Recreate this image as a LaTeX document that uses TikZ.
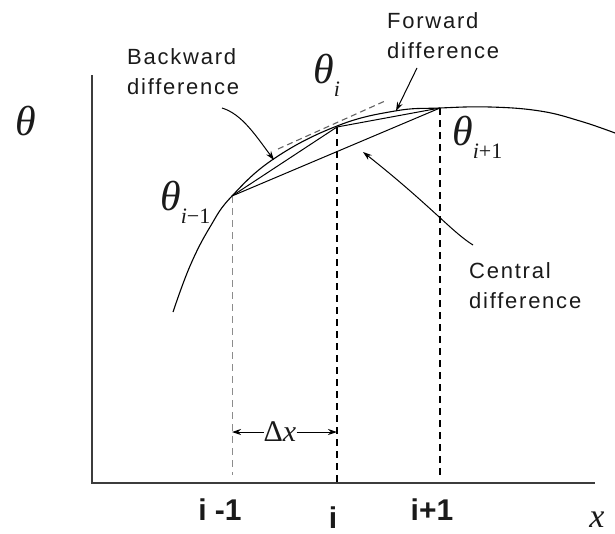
\documentclass[tikz,border=0pt]{standalone}
\usepackage{fontspec}
\setmainfont{Liberation Sans}
\newfontfamily\serifmath{Liberation Serif}
\newfontfamily\labelfont[LetterSpace=8]{Liberation Sans}
\usetikzlibrary{arrows.meta, positioning, calc}
\definecolor{ink}{HTML}{1A1A1A}
\definecolor{axisgray}{HTML}{3C3C3C}
\definecolor{guide}{HTML}{8C8C8C}
\newcommand{\thsym}{{\serifmath\itshape θ}}
\newcommand{\thsub}[1]{\thsym\raisebox{-13pt}{\fontsize{22}{22}\selectfont\serifmath #1}}
\tikzset{
  >={Stealth[length=9pt, width=6pt]},
  %
  lbl/.style={font=\labelfont\fontsize{22}{30}\selectfont, text=ink,
              align=left, inner sep=0pt},
  ticklbl/.style={font=\bfseries\fontsize{30}{30}\selectfont, text=ink,
                  inner sep=0pt},
  mathlbl/.style={font=\fontsize{42}{42}\selectfont, text=ink, inner sep=0pt},
  dimlbl/.style={font=\fontsize{30}{30}\selectfont, text=ink, inner sep=0pt},
  %
  axis/.style={draw=axisgray, line width=2.2pt},
  curve/.style={draw=black, line width=1.1pt},
  chord/.style={draw=black, line width=1pt},
  drop/.style={draw=black, line width=1.3pt, dash pattern=on 7pt off 5pt},
  droplight/.style={drop, draw=guide, line width=0.9pt},
  tangent/.style={draw=guide!70!black, line width=1.1pt,
                  dash pattern=on 6pt off 4pt},
  leader/.style={draw=black, line width=1pt, ->},
  dimline/.style={draw=black, line width=1pt, ->},
}
\begin{document}
\begin{tikzpicture}[x=1pt, y=-1pt]
  \useasboundingbox (0,0) rectangle (615,533);

  % axes
  \coordinate (ytop)   at (92,75);
  \coordinate (origin) at (92,483);
  \coordinate (xend)   at (595,483);
  \draw[axis] (ytop) -- (origin) -- (xend);

  % grid points
  \coordinate (pm) at (232,196);
  \coordinate (p0) at (337,127);
  \coordinate (pp) at (440,108);

  \draw[curve] plot[smooth, tension=0.7] coordinates
    {(173,312) (190,266) (210,227) (232,196) (275,158) (337,126)
     (395,111) (440,108) (490,107) (540,111) (580,121) (615,133)};

  % drops to the axis
  \draw[droplight] (pm) -- ($(pm |- origin)+(0,-8)$);
  \draw[drop] (p0) -- (p0 |- origin);
  \draw[drop] (pp) -- ($(pp |- origin)+(0,-5)$);

  % the three differences and the tangent at theta_i
  \coordinate (tanA) at (278,149);
  \coordinate (tanB) at (385,101);
  \draw[tangent] (tanA) -- (tanB);
  \draw[chord] (pm) -- (p0);
  \draw[chord] (p0) -- (pp);
  \draw[chord] (pm) -- (pp);

  % labels
  \node[mathlbl, anchor=base west] (thaxis) at (15,135) {\thsym};
  \node[mathlbl, anchor=base west] (thm) at (160,210) {\thsub{\textit{i}−1}};
  \node[mathlbl, anchor=base west] (thi) at (313,83) {\thsub{\textit{i}}};
  \node[mathlbl, anchor=base west] (thp) at (452,145) {\thsub{\textit{i}+1}};

  \node[lbl, anchor=north west] (bwd) at (127,48) {Backward\\difference};
  \node[lbl, anchor=north west] (fwd) at (387,12) {Forward\\difference};
  \node[lbl, anchor=north west] (cen) at (469,262) {Central\\difference};

  % leaders
  \coordinate (bwdfrom) at (222,108);
  \coordinate (bwdto)   at (274,160);
  \coordinate (fwdfrom) at (417,68);
  \coordinate (fwdto)   at (396,111);
  \coordinate (cenfrom) at (473,245);
  \coordinate (cento)   at (363,152);
  \draw[leader] (bwdfrom) .. controls (242,114) and (256,136) .. (bwdto);
  \draw[leader] (fwdfrom) -- (fwdto);
  \draw[leader] (cenfrom) .. controls (452,232) and (430,205) .. (cento);

  % grid spacing
  \node[dimlbl] (dx) at (280,432) {\serifmath Δ\textit{x}};
  \draw[dimline] (dx.west) -- (pm |- dx.west);
  \draw[dimline] (dx.east) -- (p0 |- dx.east);

  % axis ticks
  \node[ticklbl, anchor=base] (tm) at (220,520) {i -1};
  \node[ticklbl, anchor=base] (t0) at (333,528) {i};
  \node[ticklbl, anchor=base] (tp) at (432,520) {i+1};
  \node[font=\fontsize{34}{34}\selectfont, text=ink, inner sep=0pt,
        anchor=base] (xlbl) at (597,527) {\serifmath\itshape x};

\end{tikzpicture}
\end{document}
